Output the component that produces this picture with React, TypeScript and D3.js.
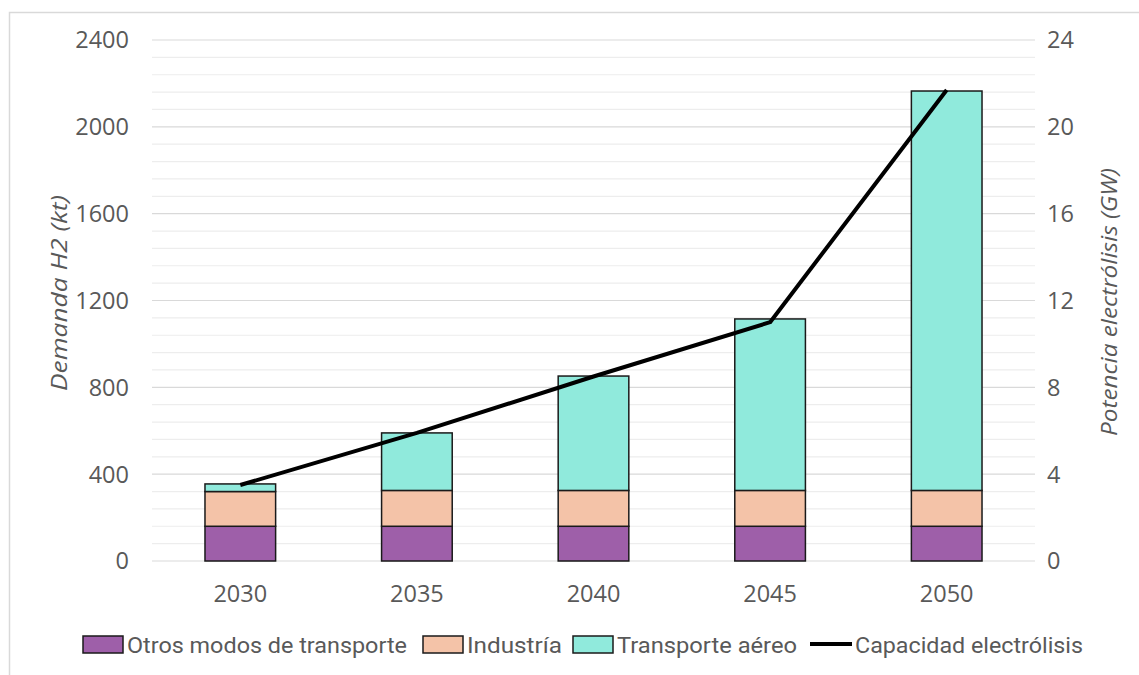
import { useEffect, useRef } from "react";
import * as d3 from "d3";

const years = ["2030", "2035", "2040", "2045", "2050"];
const otros = [160, 160, 160, 160, 160];
const industria = [160, 165, 165, 165, 165];
const aereo = [35, 265, 527, 790, 1840];
const capacidad = [3.5, 5.9, 8.5, 11.0, 21.7];

const seriesNames = ["Otros modos de transporte", "Industría", "Transporte aéreo"];
const colors = ["#9e5fa9", "#f4c3a8", "#90eadc"];
const leftTicks = [0, 400, 800, 1200, 1600, 2000, 2400];
const rightTicks = [0, 4, 8, 12, 16, 20, 24];

export default function App() {
  const ref = useRef<SVGSVGElement>(null);

  useEffect(() => {
    const width = 1139;
    const height = 675;
    const margin = { top: 40, right: 104, bottom: 114, left: 152 };

    const svg = d3.select(ref.current);
    svg.selectAll("*").remove();

    const font = "'Open Sans', Roboto, sans-serif";
    const gray = "#595959";

    // frame
    svg.append("rect")
      .attr("x", 9.5).attr("y", 12.5)
      .attr("width", width + 10).attr("height", height)
      .attr("fill", "white").attr("stroke", "#d9d9d9").attr("stroke-width", 1.5);

    const x = d3.scaleBand()
      .domain(years)
      .range([margin.left, width - margin.right])
      .paddingInner(0.6).paddingOuter(0.3);

    const y = d3.scaleLinear().domain([0, 2400]).range([height - margin.bottom, margin.top]);
    const y2 = d3.scaleLinear().domain([0, 24]).range([height - margin.bottom, margin.top]);

    const x0 = margin.left;
    const x1 = width - margin.right;

    // minor gridlines every 80
    svg.append("g")
      .selectAll("line")
      .data(d3.range(80, 2400, 80).filter(v => v % 400 !== 0))
      .join("line")
      .attr("x1", x0).attr("x2", x1)
      .attr("y1", d => y(d)).attr("y2", d => y(d))
      .attr("stroke", "#ededed").attr("stroke-width", 1.2);

    svg.append("g")
      .selectAll("line")
      .data(leftTicks)
      .join("line")
      .attr("x1", x0).attr("x2", x1)
      .attr("y1", d => y(d)).attr("y2", d => y(d))
      .attr("stroke", "#d9d9d9").attr("stroke-width", 1.2);

    // stacked bars
    const table = years.map((yr, i) => ({ year: yr, s0: otros[i], s1: industria[i], s2: aereo[i] }));
    const stack = d3.stack<any>().keys(["s0", "s1", "s2"])(table);

    svg.append("g")
      .selectAll("g")
      .data(stack)
      .join("g")
      .attr("fill", (_, i) => colors[i])
      .selectAll("rect")
      .data(d => d)
      .join("rect")
      .attr("x", d => x(d.data.year)!)
      .attr("width", x.bandwidth())
      .attr("y", d => y(d[1]))
      .attr("height", d => y(d[0]) - y(d[1]))
      .attr("stroke", "#1a1a1a")
      .attr("stroke-width", 1.5);

    // line
    const line = d3.line<number>()
      .x((_, i) => x(years[i])! + x.bandwidth() / 2)
      .y(d => y2(d));

    svg.append("path")
      .datum(capacidad)
      .attr("d", line)
      .attr("fill", "none")
      .attr("stroke", "#000")
      .attr("stroke-width", 4)
      .attr("stroke-linejoin", "round");

    // left ticks
    svg.append("g")
      .selectAll("text")
      .data(leftTicks)
      .join("text")
      .attr("x", 129).attr("y", d => y(d))
      .attr("dy", "0.36em")
      .attr("text-anchor", "end")
      .attr("font-family", font).attr("font-size", 23.5).attr("fill", gray)
      .text(d => d);

    // right ticks
    svg.append("g")
      .selectAll("text")
      .data(rightTicks)
      .join("text")
      .attr("x", 1047).attr("y", d => y2(d))
      .attr("dy", "0.36em")
      .attr("text-anchor", "start")
      .attr("font-family", font).attr("font-size", 23.5).attr("fill", gray)
      .text(d => d);

    // x labels
    svg.append("g")
      .selectAll("text")
      .data(years)
      .join("text")
      .attr("x", d => x(d)! + x.bandwidth() / 2).attr("y", 594)
      .attr("dy", "0.36em")
      .attr("text-anchor", "middle")
      .attr("font-family", font).attr("font-size", 23.5).attr("fill", gray)
      .text(d => d);

    // axis titles
    svg.append("text")
      .attr("transform", `translate(67,293) rotate(-90)`)
      .attr("text-anchor", "middle")
      .attr("font-family", font).attr("font-size", 21).attr("font-style", "italic").attr("fill", gray)
      .attr("textLength", 196).attr("lengthAdjust", "spacingAndGlyphs")
      .text("Demanda H2 (kt)");

    svg.append("text")
      .attr("transform", `translate(1117,302) rotate(-90)`)
      .attr("text-anchor", "middle")
      .attr("font-family", font).attr("font-size", 21).attr("font-style", "italic").attr("fill", gray)
      .attr("textLength", 268).attr("lengthAdjust", "spacingAndGlyphs")
      .text("Potencia electrólisis (GW)");

    // legend
    const lfont = "Roboto, 'Open Sans', sans-serif";
    const legend = svg.append("g").attr("font-family", lfont).attr("font-size", 22).attr("fill", gray);
    const legendX = [83, 423, 573];
    const legendLen = [280, 95, 180];
    seriesNames.forEach((name, i) => {
      legend.append("rect")
        .attr("x", legendX[i]).attr("y", 636)
        .attr("width", 40).attr("height", 17)
        .attr("fill", colors[i]).attr("stroke", "#1a1a1a").attr("stroke-width", 1.5);
      legend.append("text")
        .attr("x", legendX[i] + 44).attr("y", 645).attr("dy", "0.36em")
        .attr("textLength", legendLen[i]).attr("lengthAdjust", "spacingAndGlyphs")
        .text(name);
    });
    legend.append("line")
      .attr("x1", 810).attr("x2", 852).attr("y1", 644).attr("y2", 644)
      .attr("stroke", "#000").attr("stroke-width", 4);
    legend.append("text")
      .attr("x", 855).attr("y", 645).attr("dy", "0.36em")
      .attr("textLength", 228).attr("lengthAdjust", "spacingAndGlyphs")
      .text("Capacidad electrólisis");
  }, []);

  return (
    <svg ref={ref} width={1139} height={675} style={{ display: "block", position: "absolute", left: 0, top: 0 }} />
  );
}
